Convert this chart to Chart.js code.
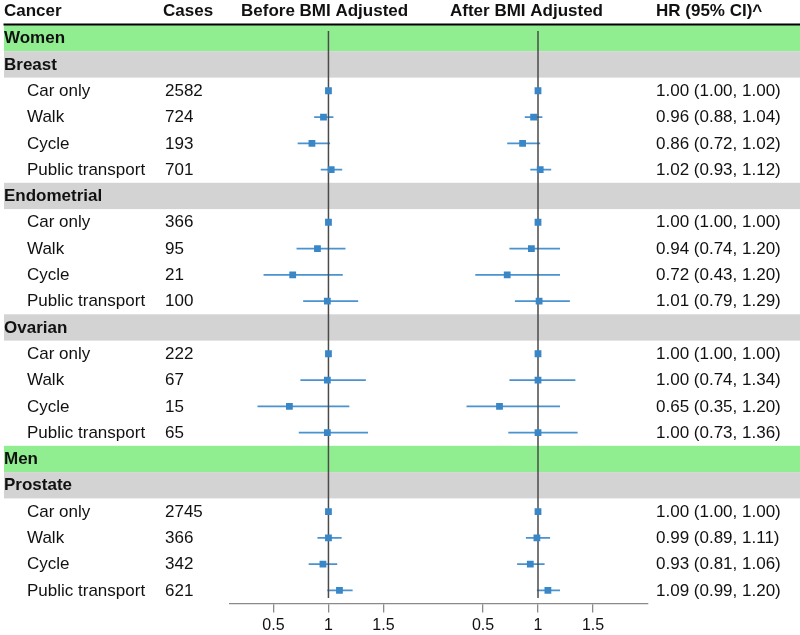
<!DOCTYPE html>
<html>
<head>
<meta charset="utf-8">
<script src="https://cdn.jsdelivr.net/npm/chart.js@4/dist/chart.umd.min.js"></script>
<style>
  html, body { margin: 0; padding: 0; background: #fff; }
  #wrap { width: 800px; height: 635px; }
</style>
</head>
<body>
<div id="wrap"><canvas id="forest" width="800" height="635"></canvas></div>
<script>
// data
const groups = ['Breast', 'Endometrial', 'Ovarian', 'Prostate'];
const groupSex = ['Women', 'Women', 'Women', 'Men'];
const modes = ['Car only', 'Walk', 'Cycle', 'Public transport'];
const cases = [
  [2582, 724, 193, 701],
  [366, 95, 21, 100],
  [222, 67, 15, 65],
  [2745, 366, 342, 621]
];
// before BMI adjustment
const beforeHR = [[1.00, 0.955, 0.85, 1.025], [1.00, 0.90, 0.675, 0.99], [1.00, 0.99, 0.645, 0.99], [1.00, 1.00, 0.95, 1.10]];
const beforeLo = [[1.00, 0.87, 0.72, 0.93], [1.00, 0.71, 0.41, 0.77], [1.00, 0.745, 0.355, 0.73], [1.00, 0.90, 0.82, 0.99]];
const beforeHi = [[1.00, 1.045, 1.015, 1.125], [1.00, 1.155, 1.13, 1.27], [1.00, 1.34, 1.19, 1.36], [1.00, 1.12, 1.08, 1.22]];
// after BMI adjustment (HR column)
const afterHR = [[1.00, 0.96, 0.86, 1.02], [1.00, 0.94, 0.72, 1.01], [1.00, 1.00, 0.65, 1.00], [1.00, 0.99, 0.93, 1.09]];
const afterLo = [[1.00, 0.88, 0.72, 0.93], [1.00, 0.74, 0.43, 0.79], [1.00, 0.74, 0.35, 0.73], [1.00, 0.89, 0.81, 0.99]];
const afterHi = [[1.00, 1.04, 1.02, 1.12], [1.00, 1.20, 1.20, 1.29], [1.00, 1.34, 1.20, 1.36], [1.00, 1.11, 1.06, 1.20]];
const tickValues = [0.5, 1, 1.5];

// second panel sits on the same x axis, shifted right
const OFFSET = 1.905;
const FONT = 'Liberation Sans, Arial, Helvetica, sans-serif';

// build rows
let rows = [];
let lastSex = null;
groups.forEach((g, gi) => {
  if (groupSex[gi] !== lastSex) {
    rows.push({ kind: 'sex', label: groupSex[gi] });
    lastSex = groupSex[gi];
  }
  rows.push({ kind: 'group', label: g });
  modes.forEach((m, mi) => rows.push({ kind: 'item', label: m, g: gi, m: mi }));
});

let squares = [];
let whiskers = [];
rows.forEach((r, i) => {
  if (r.kind !== 'item') return;
  const y = i + 0.5;
  squares.push({ x: beforeHR[r.g][r.m], y: y });
  squares.push({ x: afterHR[r.g][r.m] + OFFSET, y: y });
  whiskers.push({ x: beforeLo[r.g][r.m], y: y }, { x: beforeHi[r.g][r.m], y: y }, { x: NaN, y: NaN });
  whiskers.push({ x: afterLo[r.g][r.m] + OFFSET, y: y }, { x: afterHi[r.g][r.m] + OFFSET, y: y }, { x: NaN, y: NaN });
});
const refLines = [
  { x: 1, y: 0.23 }, { x: 1, y: 21.79 }, { x: NaN, y: NaN },
  { x: 1 + OFFSET, y: 0.23 }, { x: 1 + OFFSET, y: 21.79 }
];

const tableText = {
  id: 'tableText',
  beforeDatasetsDraw(chart) {
    const ctx = chart.ctx;
    const ys = chart.scales.y;
    ctx.save();
    // bands
    rows.forEach((r, i) => {
      if (r.kind === 'item') return;
      const y0 = ys.getPixelForValue(i);
      const y1 = ys.getPixelForValue(i + 1);
      ctx.fillStyle = r.kind === 'sex' ? '#90ee90' : '#d3d3d3';
      ctx.fillRect(4, y0, 796, y1 - y0);
    });
    // header rule
    ctx.strokeStyle = '#000';
    ctx.lineWidth = 1.8;
    ctx.beginPath();
    ctx.moveTo(3.5, 24.5);
    ctx.lineTo(800, 24.5);
    ctx.stroke();

    ctx.fillStyle = '#111';
    ctx.textBaseline = 'middle';
    ctx.textAlign = 'left';
    ctx.font = 'bold 17px ' + FONT;
    ctx.fillText('Cancer', 4, 11);
    ctx.fillText('Cases', 163, 11);
    ctx.fillText('Before BMI Adjusted', 241, 11);
    ctx.fillText('After BMI Adjusted', 450, 11);
    ctx.fillText('HR (95% CI)^', 656, 11);

    rows.forEach((r, i) => {
      const y = ys.getPixelForValue(i + 0.5) + 0.5;
      if (r.kind !== 'item') {
        ctx.font = 'bold 17px ' + FONT;
        ctx.fillText(r.label, 4, y);
        return;
      }
      ctx.font = '17px ' + FONT;
      ctx.fillText(r.label, 27, y);
      ctx.fillText(String(cases[r.g][r.m]), 165, y);
      const hr = afterHR[r.g][r.m].toFixed(2) + ' (' + afterLo[r.g][r.m].toFixed(2) + ', ' + afterHi[r.g][r.m].toFixed(2) + ')';
      ctx.fillText(hr, 656, y);
    });
    ctx.restore();
  }
};

new Chart(document.getElementById('forest'), {
  type: 'scatter',
  data: {
    datasets: [
      {
        data: squares,
        pointStyle: 'rect',
        pointRadius: 4.8,
        backgroundColor: '#3a87c8',
        borderWidth: 0,
        showLine: false
      },
      {
        data: refLines,
        showLine: true,
        spanGaps: false,
        borderColor: '#4a4a4a',
        borderWidth: 1.5,
        pointRadius: 0
      },
      {
        data: whiskers,
        showLine: true,
        spanGaps: false,
        borderColor: '#4a93d0',
        borderWidth: 1.7,
        pointRadius: 0
      }
    ]
  },
  options: {
    responsive: false,
    animation: false,
    layout: { padding: { top: 25, left: 230, right: 152, bottom: 0 } },
    plugins: { legend: { display: false }, tooltip: { enabled: false } },
    scales: {
      x: {
        type: 'linear',
        min: 0.105,
        max: 3.905,
        afterBuildTicks: (s) => {
          s.ticks = tickValues.map(v => ({ value: v })).concat(tickValues.map(v => ({ value: v + OFFSET })));
        },
        afterFit: (s) => { s.height = 31.4; },
        border: { display: true, color: '#8a8a8a', width: 1.3 },
        grid: { drawOnChartArea: false, drawTicks: true, tickLength: 9, color: '#8a8a8a', lineWidth: 1.3 },
        ticks: {
          autoSkip: false,
          maxRotation: 0,
          padding: 3,
          color: '#111',
          font: { family: FONT, size: 16 },
          callback: (v) => {
            const t = v > 2 ? v - OFFSET : v;
            return String(Math.round(t * 10) / 10);
          }
        }
      },
      y: {
        type: 'linear',
        min: 0,
        max: rows.length,
        reverse: true,
        display: false
      }
    }
  },
  plugins: [tableText]
});
</script>
</body>
</html>
